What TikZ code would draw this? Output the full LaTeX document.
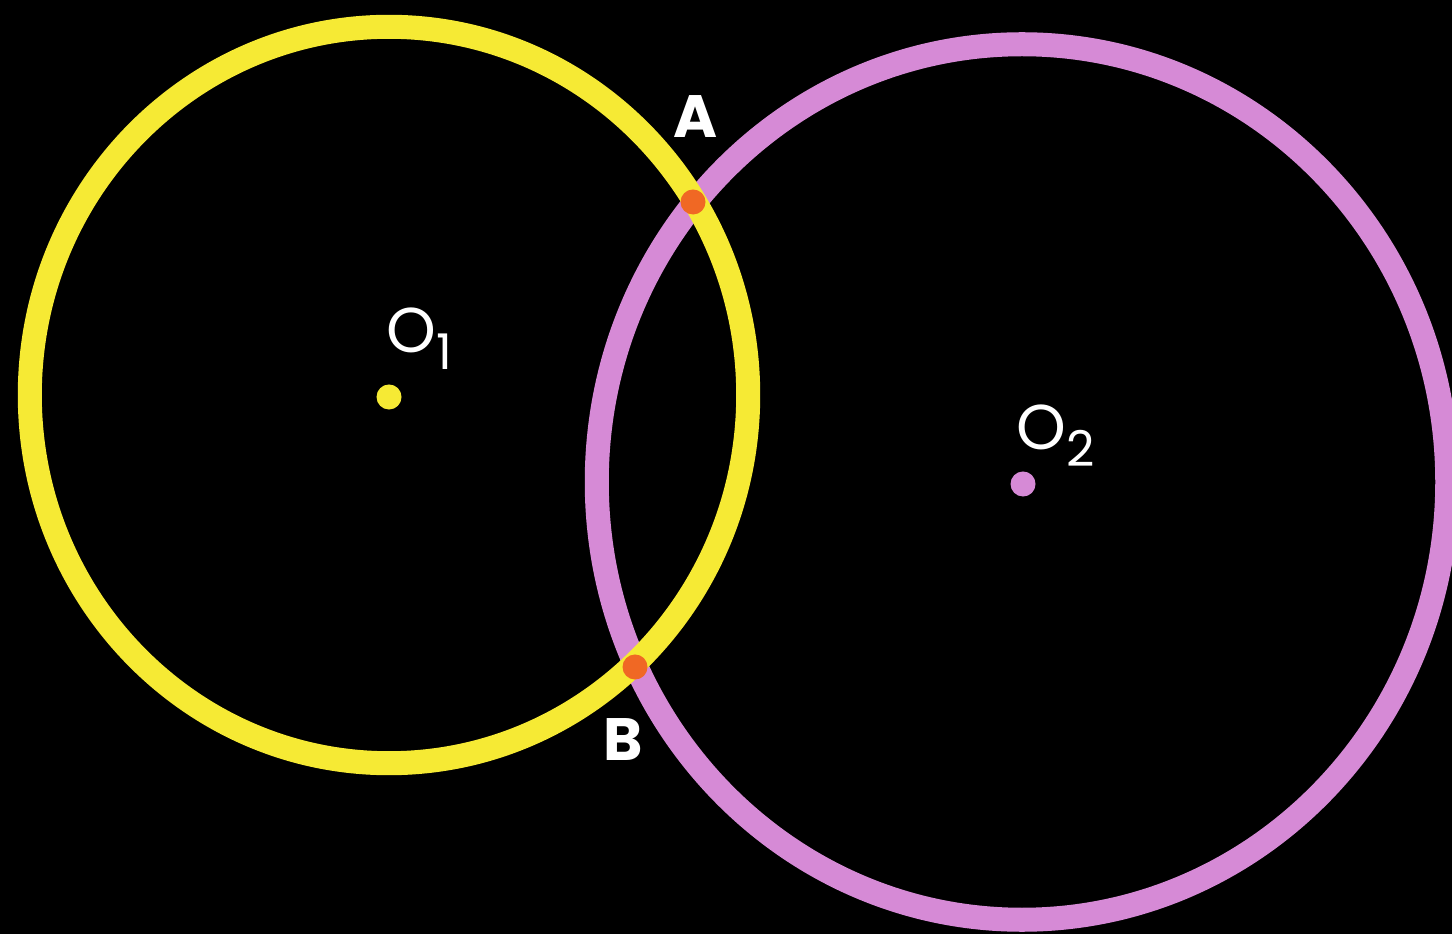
\documentclass[tikz,border=0pt]{standalone}
\usepackage{fontspec}
\setmainfont{Poppins}
\usetikzlibrary{positioning}
\definecolor{ringyellow}{RGB}{246,234,52}
\definecolor{ringpurple}{RGB}{214,138,214}
\definecolor{cutorange}{RGB}{240,104,36}
\begin{document}
\begin{tikzpicture}[
		x=0.01cm,y=-0.01cm,
		ring/.style={line width=0.24cm},
		dot/.style={
			circle,
			inner sep=0pt,
			minimum size=0.25cm
		},
		lbl/.style={
			text=white,
			inner sep=0pt,
			font=\fontsize{17}{17}\selectfont\bfseries
		},
		centrelbl/.style={
			lbl,
			font=\fontsize{18}{18}\selectfont\mdseries
		}
		]
		
		% background and frame
		\fill[black] (0,0) rectangle (1452,934);
		\useasboundingbox (0,0) rectangle (1452,934);
		
		% centres
		\coordinate (c1) at (389,395);
		\coordinate (c2) at (1022,482);
		
		% circles
		\draw[ring,ringpurple] (c2) ellipse [x radius=4.25cm,y radius=4.375cm];
		\draw[ring,ringyellow] (c1) ellipse [x radius=3.59cm,y radius=3.68cm];
		
		% centre dots
		\node[dot,fill=ringyellow] (o1) at (389,397) {};
		\node[dot,fill=ringpurple] (o2) at (1023,484) {};
		
		% intersection points
		\node[dot,fill=cutorange] (a) at (693,202) {};
		\node[dot,fill=cutorange] (b) at (635,667) {};
		
		% labels
		\node[centrelbl,anchor=base west] (o1lbl) at (386,353)
		{O\raisebox{-4.8pt}{\fontsize{14}{14}\selectfont 1}};
		\node[centrelbl,anchor=base west] (o2lbl) at (1016,450)
		{O\raisebox{-4.8pt}{\fontsize{14}{14}\selectfont 2}};
		\node[lbl,anchor=base] (albl) at (696,138) {A};
		\node[lbl,anchor=base] (blbl) at (623,760) {B};
		
	\end{tikzpicture}
\end{document}
